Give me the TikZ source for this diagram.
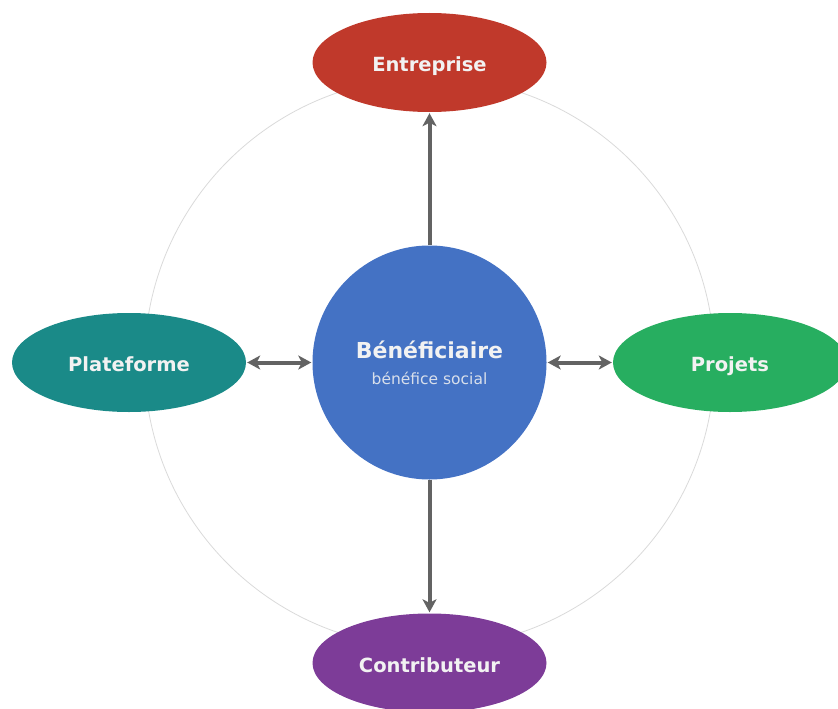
\documentclass[tikz,border=0pt]{standalone}
\usepackage{fontspec}
\setmainfont{DejaVu Sans}
\usetikzlibrary{arrows.meta,shapes.geometric}
\definecolor{MapHub}{HTML}{4472C4}
\definecolor{MapRed}{HTML}{C0392B}
\definecolor{MapGreen}{HTML}{27AE60}
\definecolor{MapTeal}{HTML}{1A8A88}
\definecolor{MapPurple}{HTML}{7D3C98}
\definecolor{MapLink}{HTML}{636363}
\definecolor{MapOrbit}{HTML}{DADADA}
\definecolor{MapPaper}{HTML}{F2F2F2}
\tikzset{
  every node/.style={text=MapPaper},
  topic/.style={ellipse, minimum width=234pt, minimum height=99pt, inner sep=0pt,
    text height=18pt, text depth=0pt, font=\bfseries\fontsize{19.5}{22}\selectfont},
  hub/.style={circle, fill=MapHub, minimum size=234pt, inner sep=0pt, align=center,
    text depth=-13pt, font=\fontsize{15.5}{26}\selectfont},
  orbit/.style={draw=MapOrbit, line width=0.8pt},
  link/.style={draw=MapLink, line width=4pt, -{Stealth[length=13pt,width=14pt,inset=3.5pt]}},
  both/.style={draw=MapLink, line width=4pt, {Stealth[length=13pt,width=14pt,inset=3.5pt]}-{Stealth[length=13pt,width=14pt,inset=3.5pt]}},
}
\begin{document}
\begin{tikzpicture}[x=1pt,y=1pt]
  \useasboundingbox (0,0) rectangle (838,-709);
  % Orbit first, so the nodes paint over it
  \draw[orbit] (429.5,-362.5) circle (285);
  % Centre and the four partners round it
  \node[hub] (benef) at (429.5,-362.5)
    {{\bfseries\fontsize{22}{26}\selectfont Bénéficiaire}\\
     {\color{MapPaper!85!MapHub}bénéfice social}};
  \node[topic, fill=MapRed] (entreprise) at (429.5,-62.5) {Entreprise};
  \node[topic, fill=MapPurple] (contrib) at (429.5,-663) {Contributeur};
  \node[topic, fill=MapTeal] (plateforme) at (129,-362.5) {Plateforme};
  \node[topic, fill=MapGreen] (projets) at (730,-362.5) {Projets};
  % Links
  \draw[link, shorten >=1pt] (benef.north) -- (entreprise.south);
  \draw[link, shorten >=1pt] (benef.south) -- (contrib.north);
  \draw[both, shorten <=1pt, shorten >=1pt] (plateforme.east) -- (benef.west);
  \draw[both, shorten <=1pt, shorten >=1pt] (benef.east) -- (projets.west);
\end{tikzpicture}
\end{document}
